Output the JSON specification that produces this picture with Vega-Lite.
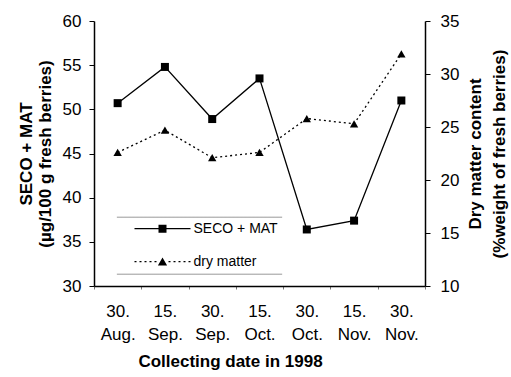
{
  "$schema": "https://vega.github.io/schema/vega-lite/v6.json",
  "width": 331,
  "height": 265,
  "autosize": {"type": "none"},
  "padding": {"left": 94, "top": 21, "right": 86, "bottom": 91},
  "background": "white",
  "config": {
    "view": {"stroke": null},
    "font": "Liberation Sans",
    "axis": {
      "grid": false,
      "domainColor": "black",
      "domainWidth": 1.5,
      "tickColor": "black",
      "labelColor": "black",
      "titleColor": "black",
      "labelFont": "Liberation Sans",
      "titleFont": "Liberation Sans",
      "labelFontSize": 17,
      "titleFontSize": 17,
      "titleFontWeight": "bold"
    },
    "legend": {
      "orient": "none",
      "legendX": 20.5,
      "legendY": 195.7,
      "padding": 5,
      "symbolSize": 64,
      "symbolStrokeWidth": 1.2,
      "symbolStrokeColor": "black",
      "symbolFillColor": "black",
      "symbolOpacity": 1,
      "symbolOffset": 36,
      "labelOffset": 24,
      "labelFontSize": 14,
      "labelFont": "Liberation Sans",
      "labelColor": "black",
      "rowPadding": 19,
      "strokeColor": {
        "value": {
          "gradient": "linear",
          "x1": 0, "y1": 0, "x2": 1, "y2": 0,
          "stops": [
            {"offset": 0, "color": "rgba(153,153,153,0)"},
            {"offset": 0.008, "color": "rgba(153,153,153,0)"},
            {"offset": 0.014, "color": "#999999"},
            {"offset": 0.986, "color": "#999999"},
            {"offset": 0.992, "color": "rgba(153,153,153,0)"},
            {"offset": 1, "color": "rgba(153,153,153,0)"}
          ]
        }
      }
    }
  },
  "data": {
    "values": [
      {"date": "30. Aug.", "seco": 50.7, "dry": 22.6},
      {"date": "15. Sep.", "seco": 54.8, "dry": 24.7},
      {"date": "30. Sep.", "seco": 48.9, "dry": 22.1},
      {"date": "15. Oct.", "seco": 53.5, "dry": 22.6},
      {"date": "30. Oct.", "seco": 36.4, "dry": 25.8},
      {"date": "15. Nov.", "seco": 37.4, "dry": 25.3},
      {"date": "30. Nov.", "seco": 51.0, "dry": 31.9}
    ]
  },
  "encoding": {
    "x": {
      "field": "date",
      "type": "ordinal",
      "sort": null,
      "bandPosition": 0.5,
      "scale": {"type": "band", "paddingInner": 0, "paddingOuter": 0},
      "axis": {
        "title": "Collecting date in 1998",
        "labelAngle": 0,
        "labelExpr": "split(datum.label, ' ')",
        "labelLineHeight": 23,
        "tickBand": "extent",
        "tickSize": 3,
        "tickColor": "#777777",
        "labelPadding": 14,
        "titlePadding": 11,
        "titleX": 136
      }
    }
  },
  "layer": [
    {
      "layer": [
        {
          "mark": {"type": "line", "color": "black", "strokeWidth": 1.3},
          "encoding": {
            "y": {
              "field": "seco",
              "type": "quantitative",
              "scale": {"domain": [30, 60], "nice": false, "zero": false},
              "axis": {
                "title": ["SECO + MAT", "(µg/100 g fresh berries)"],
                "values": [30, 35, 40, 45, 50, 55, 60],
                "tickSize": 5,
                "labelPadding": 8,
                "titlePadding": 8,
                "titleLineHeight": 19
              }
            }
          }
        },
        {
          "mark": {"type": "point", "shape": "square", "filled": true, "color": "black", "size": 64, "opacity": 1},
          "encoding": {
            "y": {"field": "seco", "type": "quantitative"}
          }
        },
        {
          "mark": {"type": "point", "filled": true, "color": "black", "size": 64, "opacity": 0},
          "encoding": {
            "y": {"field": "seco", "type": "quantitative"},
            "shape": {
              "datum": "SECO + MAT",
              "type": "nominal",
              "scale": {
                "domain": ["SECO + MAT", "dry matter"],
                "range": [
                  "M-7,-0.15H7V0.15H-7ZM-1,-1H1V1H-1Z",
                  "M-7,-0.15H-6.5V0.15H-7ZM-5.75,-0.15H-5.25V0.15H-5.75ZM-4.5,-0.15H-4V0.15H-4.5ZM-3.25,-0.15H-2.75V0.15H-3.25ZM-2,-0.15H-1.5V0.15H-2ZM1.5,-0.15H2V0.15H1.5ZM2.75,-0.15H3.25V0.15H2.75ZM4,-0.15H4.5V0.15H4ZM5.25,-0.15H5.75V0.15H5.25ZM6.5,-0.15H7V0.15H6.5ZM-1.15,0.95L0,-1.05L1.15,0.95Z"
                ]
              },
              "legend": {
                "title": null,
                "labelExpr": "datum.label + '\u00a0\u00a0\u00a0'"
              }
            }
          }
        }
      ]
    },
    {
      "layer": [
        {
          "mark": {"type": "line", "color": "black", "strokeWidth": 1.3, "strokeDash": [2, 3]},
          "encoding": {
            "y": {
              "field": "dry",
              "type": "quantitative",
              "scale": {"domain": [10, 35], "nice": false, "zero": false},
              "axis": {
                "orient": "right",
                "title": ["Dry matter content", "(%weight of fresh berries)"],
                "titleAngle": -90,
                "titleBaseline": "top",
                "values": [10, 15, 20, 25, 30, 35],
                "tickSize": 5,
                "labelPadding": 10,
                "titlePadding": -15,
                "titleLineHeight": 24
              }
            }
          }
        },
        {
          "mark": {"type": "point", "shape": "triangle-up", "filled": true, "color": "black", "size": 70, "opacity": 1},
          "encoding": {
            "y": {"field": "dry", "type": "quantitative"}
          }
        },
        {
          "mark": {"type": "point", "filled": true, "color": "black", "size": 64, "opacity": 0},
          "encoding": {
            "y": {"field": "dry", "type": "quantitative"},
            "shape": {"datum": "dry matter", "type": "nominal"}
          }
        }
      ]
    }
  ],
  "resolve": {"scale": {"y": "independent"}}
}
